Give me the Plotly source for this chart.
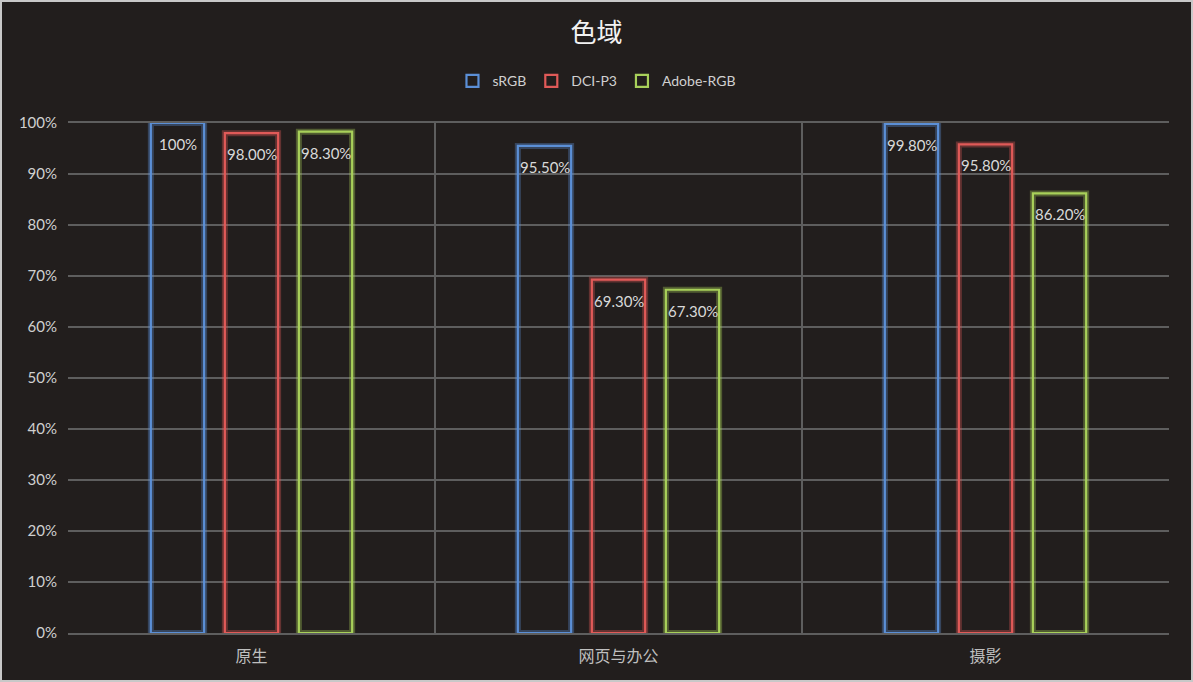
import plotly.graph_objects as go

categories = ["原生", "网页与办公", "摄影"]
series_names = ["sRGB", "DCI-P3", "Adobe-RGB"]
srgb = [100.0, 95.5, 99.8]
dci_p3 = [98.0, 69.3, 95.8]
adobe_rgb = [98.3, 67.3, 86.2]
y_ticks = [0, 10, 20, 30, 40, 50, 60, 70, 80, 90, 100]
y_tick_labels = [f"{v}%" for v in y_ticks]

values = [srgb, dci_p3, adobe_rgb]
colors = ["#5b8fd6", "#e05a58", "#a8d05a"]
glow = ["rgba(91,143,214,0.35)", "rgba(224,90,88,0.35)", "rgba(168,208,90,0.35)"]
slot_px = 74  # horizontal distance between bars inside a group


def fmt(v):
    return "100%" if v == 100 else f"{v:.2f}%"


fig = go.Figure()
for i, (name, vals) in enumerate(zip(series_names, values)):
    fig.add_trace(go.Bar(
        x=categories, y=vals, offsetgroup=str(i), showlegend=False,
        marker=dict(color="rgba(0,0,0,0)", line=dict(color=glow[i], width=6)),
        hoverinfo="skip",
    ))
    fig.add_trace(go.Bar(
        x=categories, y=vals, name=name, offsetgroup=str(i),
        marker=dict(color="rgba(0,0,0,0)", line=dict(color=colors[i], width=2.2)),
    ))
    for c, v in zip(categories, vals):
        fig.add_annotation(x=c, y=v, xref="x", yref="y", text=fmt(v), showarrow=False,
                           xshift=(i - 1) * slot_px, yshift=-21, yanchor="middle",
                           font=dict(color="#d9d9d9", size=15, family="Lato, Noto Sans"))

fig.update_layout(
    width=1193, height=682,
    paper_bgcolor="#221e1d", plot_bgcolor="#221e1d",
    margin=dict(l=68, r=24, t=123, b=49),
    barmode="group", bargap=0.395, bargroupgap=0.28,
    title=dict(text="色域", x=0.5, xanchor="center", y=0.952, yanchor="middle",
               font=dict(family="Noto Sans CJK SC", size=26, color="#f2f2f2")),
    legend=dict(orientation="h", x=0.48, xanchor="center", y=1.082, yanchor="middle",
                font=dict(family="Lato, Noto Sans", size=14, color="#d0d0d0"),
                bgcolor="rgba(0,0,0,0)", traceorder="normal", itemwidth=30),
    font=dict(family="Lato, Noto Sans CJK SC"),
    showlegend=True,
)
fig.update_xaxes(
    type="category", tickson="boundaries", showgrid=True, gridcolor="#5e5e5e", gridwidth=1.5,
    showline=True, linecolor="#5e5e5e", linewidth=1.5, mirror=True, ticks="",
    ticklabelstandoff=8,
    tickfont=dict(family="Noto Sans CJK SC", size=16, color="#bfbfbf"),
)
fig.update_yaxes(
    range=[0, 100], tickvals=y_ticks, ticktext=y_tick_labels,
    showgrid=True, gridcolor="#5e5e5e", gridwidth=1.5, zeroline=False,
    showline=False, ticks="", ticklabelstandoff=10,
    tickfont=dict(family="Lato, Noto Sans", size=15, color="#d0d0d0"),
)
fig.add_shape(type="rect", xref="paper", yref="paper",
              x0=-67 / 1101, x1=1 + 23 / 1101, y0=-48 / 510, y1=1 + 122 / 510,
              line=dict(color="#c8c8c8", width=2), layer="above")

fig.write_html("out.html", config={"displayModeBar": False},
               post_script="document.body.style.margin='0';document.body.style.overflow='hidden';")
